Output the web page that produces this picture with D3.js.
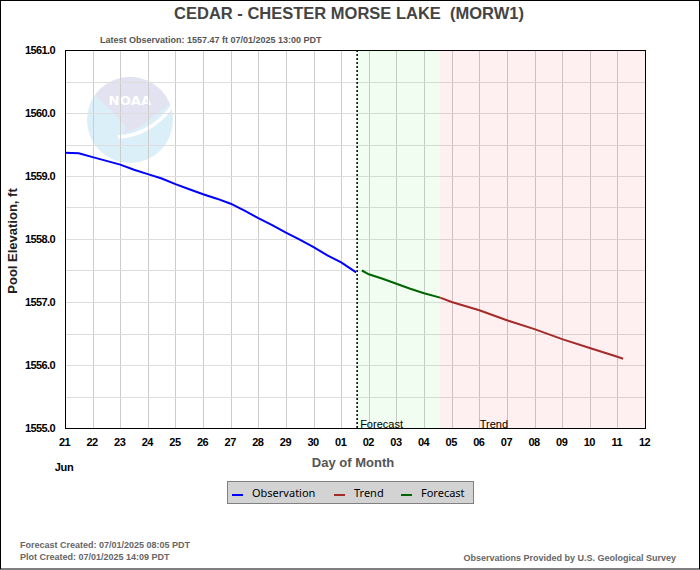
<!DOCTYPE html>
<html>
<head>
<meta charset="utf-8">
<script src="https://cdn.jsdelivr.net/npm/d3@7"></script>
<style>
  html, body { margin: 0; padding: 0; background: #fff; }
  svg { display: block; }
</style>
</head>
<body>
<svg id="chart" width="700" height="570"></svg>
<script>
// ---------------- data ----------------
const title = "CEDAR - CHESTER MORSE LAKE  (MORW1)";
const subtitle = "Latest Observation: 1557.47 ft 07/01/2025 13:00 PDT";
const yTickValues = [1555, 1556, 1557, 1558, 1559, 1560, 1561];
const xDomain = ["2025-06-21 00:00", "2025-07-12 00:00"];
const obsTimes = ["2025-06-21 00:00","2025-06-21 12:00","2025-06-22 00:00","2025-06-22 12:00",
  "2025-06-23 00:00","2025-06-23 12:00","2025-06-24 00:00","2025-06-24 12:00",
  "2025-06-25 00:00","2025-06-25 12:00","2025-06-26 00:00","2025-06-26 12:00",
  "2025-06-27 00:00","2025-06-27 12:00","2025-06-28 00:00","2025-06-28 12:00",
  "2025-06-29 00:00","2025-06-29 12:00","2025-06-30 00:00","2025-06-30 12:00",
  "2025-07-01 00:00","2025-07-01 13:00"];
const obsValues = [1559.37,1559.36,1559.30,1559.24,1559.18,1559.10,1559.03,1558.96,
  1558.87,1558.79,1558.71,1558.64,1558.56,1558.45,1558.33,1558.22,
  1558.10,1557.99,1557.87,1557.74,1557.63,1557.47];
const fcTimes = ["2025-07-01 18:00","2025-07-02 00:00","2025-07-02 12:00","2025-07-03 00:00",
  "2025-07-03 12:00","2025-07-04 00:00","2025-07-04 14:00"];
const fcValues = [1557.50,1557.44,1557.37,1557.29,1557.21,1557.14,1557.07];
const trendTimes = ["2025-07-04 14:00","2025-07-05 00:00","2025-07-06 00:00","2025-07-07 00:00",
  "2025-07-08 00:00","2025-07-09 00:00","2025-07-10 00:00","2025-07-11 00:00","2025-07-11 05:00"];
const trendValues = [1557.07,1557.00,1556.87,1556.71,1556.57,1556.41,1556.27,1556.13,1556.10];
const obsEnd = "2025-07-01 13:00";
const forecastEnd = "2025-07-04 14:00";
const trendLabelAt = "2025-07-06 00:00";
const legendItems = ["Observation", "Trend", "Forecast"];
const footerLeft = ["Forecast Created: 07/01/2025 08:05 PDT", "Plot Created: 07/01/2025 14:09 PDT"];
const footerRight = "Observations Provided by U.S. Geological Survey";

// ---------------- drawing ----------------
const parse = d3.timeParse("%Y-%m-%d %H:%M");
const svg = d3.select("#chart");
const W = 700, H = 570;
const m = {left: 65, top: 50, right: 645, bottom: 428};

const x = d3.scaleTime().domain(xDomain.map(parse)).range([m.left, m.right]);
const y = d3.scaleLinear().domain([1555, 1561]).range([m.bottom, m.top]);

const seriesColor = {Observation: "#0000ff", Trend: "#a52a2a", Forecast: "#006400"};

// outer border
svg.append("rect").attr("x", 0.5).attr("y", 0.5).attr("width", W - 1).attr("height", H - 1.5)
  .attr("fill", "#fff").attr("stroke", "#000");

// NOAA logo (watermark)
const logo = svg.append("g");
svg.append("clipPath").attr("id", "logoclip").append("circle")
  .attr("cx", 130).attr("cy", 120).attr("r", 43);
logo.append("circle").attr("cx", 130).attr("cy", 120).attr("r", 43).attr("fill", "#dbeff8");
logo.append("path").attr("clip-path", "url(#logoclip)")
  .attr("d", "M95,95 L80,60 L182,60 L171,103 C160,110 150,120 138,128 L123,134 C127,128 125,123 120,120 C113,112 103,103 95,95 Z")
  .attr("fill", "#e2e2f0");
logo.append("path").attr("clip-path", "url(#logoclip)")
  .attr("d", "M118,137 C140,136 158,126 174,104")
  .attr("fill", "none").attr("stroke", "#ffffff").attr("stroke-width", 3.5);
logo.append("text").attr("x", 130).attr("y", 104.5).attr("text-anchor", "middle")
  .attr("font-family", "DejaVu Sans, sans-serif").attr("font-weight", "bold")
  .attr("font-size", 13).attr("fill", "#fff").attr("letter-spacing", "0.3").text("NOAA");

// gridlines
const days = d3.timeDay.range(parse(xDomain[0]), d3.timeDay.offset(parse(xDomain[1]), 1));
const grid = svg.append("g");
grid.selectAll("line.v").data(days.slice(1, -1)).join("line")
  .attr("x1", d => Math.round(x(d)) + 0.5).attr("x2", d => Math.round(x(d)) + 0.5)
  .attr("y1", m.top).attr("y2", m.bottom).attr("stroke", "#cccccc").attr("stroke-width", 1);
const hLines = d3.range(1555.5, 1561, 0.5);
grid.selectAll("line.h").data(hLines).join("line")
  .attr("x1", m.left).attr("x2", m.right)
  .attr("y1", d => Math.round(y(d)) + 0.5).attr("y2", d => Math.round(y(d)) + 0.5)
  .attr("stroke", "#dddddd").attr("stroke-width", 1);

// shaded regions
svg.append("rect").attr("x", x(parse(obsEnd))).attr("y", m.top)
  .attr("width", x(parse(forecastEnd)) - x(parse(obsEnd))).attr("height", m.bottom - m.top)
  .attr("fill", "rgb(0,220,0)").attr("fill-opacity", 0.06);
svg.append("rect").attr("x", x(parse(forecastEnd))).attr("y", m.top)
  .attr("width", m.right - x(parse(forecastEnd))).attr("height", m.bottom - m.top)
  .attr("fill", "rgb(230,0,0)").attr("fill-opacity", 0.06);

// forecast / trend labels
svg.append("text").attr("x", x(parse(obsEnd)) + 4).attr("y", m.bottom)
  .attr("font-family", "Liberation Sans, Arial, sans-serif").attr("font-size", 11)
  .attr("fill", "#000").text("Forecast");
svg.append("text").attr("x", x(parse(trendLabelAt)) + 0.5).attr("y", m.bottom)
  .attr("font-family", "Liberation Sans, Arial, sans-serif").attr("font-size", 11)
  .attr("fill", "#000").text("Trend");

// dotted line at last observation
svg.append("line").attr("x1", x(parse(obsEnd)) + 1).attr("x2", x(parse(obsEnd)) + 1)
  .attr("y1", m.top).attr("y2", m.bottom).attr("stroke", "#000").attr("stroke-width", 1.5)
  .attr("stroke-dasharray", "2,2");

// series lines
const line = d3.line().x(d => x(d.t)).y(d => y(d.v));
function series(times, values) { return times.map((t, i) => ({t: parse(t), v: values[i]})); }
svg.append("path").datum(series(obsTimes, obsValues)).attr("d", line)
  .attr("fill", "none").attr("stroke", seriesColor.Observation).attr("stroke-width", 2);
svg.append("path").datum(series(fcTimes, fcValues)).attr("d", line)
  .attr("fill", "none").attr("stroke", seriesColor.Forecast).attr("stroke-width", 2);
svg.append("path").datum(series(trendTimes, trendValues)).attr("d", line)
  .attr("fill", "none").attr("stroke", seriesColor.Trend).attr("stroke-width", 2);

// plot frame
svg.append("rect").attr("x", m.left + 0.5).attr("y", m.top + 0.5)
  .attr("width", m.right - m.left).attr("height", m.bottom - m.top)
  .attr("fill", "none").attr("stroke", "#000").attr("stroke-width", 1);

// axes
const xAxis = d3.axisBottom(x).tickValues(days).tickFormat(d3.timeFormat("%d")).tickSize(0).tickPadding(10);
const gx = svg.append("g").attr("transform", `translate(0,${m.bottom})`).call(xAxis);
gx.select(".domain").remove();
gx.selectAll("text").attr("font-family", "Liberation Sans, Arial, sans-serif")
  .attr("font-weight", "bold").attr("font-size", 11).attr("fill", "#000")
  .attr("letter-spacing", "-0.5").attr("dx", -1);

const yAxis = d3.axisLeft(y).tickValues(yTickValues).tickFormat(d3.format(".1f")).tickSize(0).tickPadding(10);
const gy = svg.append("g").attr("transform", `translate(${m.left},0)`).call(yAxis);
gy.select(".domain").remove();
gy.selectAll("text").attr("font-family", "Liberation Sans, Arial, sans-serif")
  .attr("font-weight", "bold").attr("font-size", 11).attr("fill", "#000")
  .attr("letter-spacing", "-0.6");

svg.append("text").attr("x", 64).attr("y", 471).attr("text-anchor", "middle")
  .attr("font-family", "Liberation Sans, Arial, sans-serif").attr("font-weight", "bold")
  .attr("font-size", 11).attr("letter-spacing", "-0.3").attr("fill", "#000").text("Jun");

// axis titles
svg.append("text").attr("x", 353).attr("y", 467).attr("text-anchor", "middle")
  .attr("font-family", "Liberation Sans, Arial, sans-serif").attr("font-weight", "bold")
  .attr("font-size", 13).attr("fill", "#555").text("Day of Month");
svg.append("text").attr("transform", "translate(17,241) rotate(-90)").attr("text-anchor", "middle")
  .attr("font-family", "Liberation Sans, Arial, sans-serif").attr("font-weight", "bold")
  .attr("font-size", 13).attr("fill", "#222").text("Pool Elevation, ft");

// titles
svg.append("text").attr("x", 349).attr("y", 19).attr("text-anchor", "middle")
  .attr("font-family", "Liberation Sans, Arial, sans-serif").attr("font-weight", "bold")
  .attr("font-size", 16.5).attr("fill", "#444").attr("xml:space", "preserve")
  .style("white-space", "pre").text(title);
svg.append("text").attr("x", 100).attr("y", 43)
  .attr("font-family", "Liberation Sans, Arial, sans-serif").attr("font-weight", "bold")
  .attr("font-size", 9).attr("fill", "#555").text(subtitle);

// legend
const lg = svg.append("g");
lg.append("rect").attr("x", 227.5).attr("y", 481.5).attr("width", 246).attr("height", 22)
  .attr("fill", "#d3d3d3").attr("stroke", "#808080");
const legendX = {Observation: 232, Trend: 334, Forecast: 401};
legendItems.forEach(name => {
  const lx = legendX[name];
  lg.append("line").attr("x1", lx).attr("x2", lx + 11).attr("y1", 495).attr("y2", 495)
    .attr("stroke", seriesColor[name]).attr("stroke-width", 2);
  lg.append("text").attr("x", lx + 20).attr("y", 497)
    .attr("font-family", "Noto Sans, DejaVu Sans, sans-serif").attr("font-size", 11)
    .attr("fill", "#000").text(name);
});

// footers
footerLeft.forEach((t, i) => {
  svg.append("text").attr("x", 20).attr("y", 548 + i * 12)
    .attr("font-family", "Liberation Sans, Arial, sans-serif").attr("font-weight", "bold")
    .attr("font-size", 9).attr("fill", "#666").text(t);
});
svg.append("text").attr("x", 676).attr("y", 561).attr("text-anchor", "end")
  .attr("font-family", "Liberation Sans, Arial, sans-serif").attr("font-weight", "bold")
  .attr("font-size", 9).attr("fill", "#666").text(footerRight);
</script>
</body>
</html>
